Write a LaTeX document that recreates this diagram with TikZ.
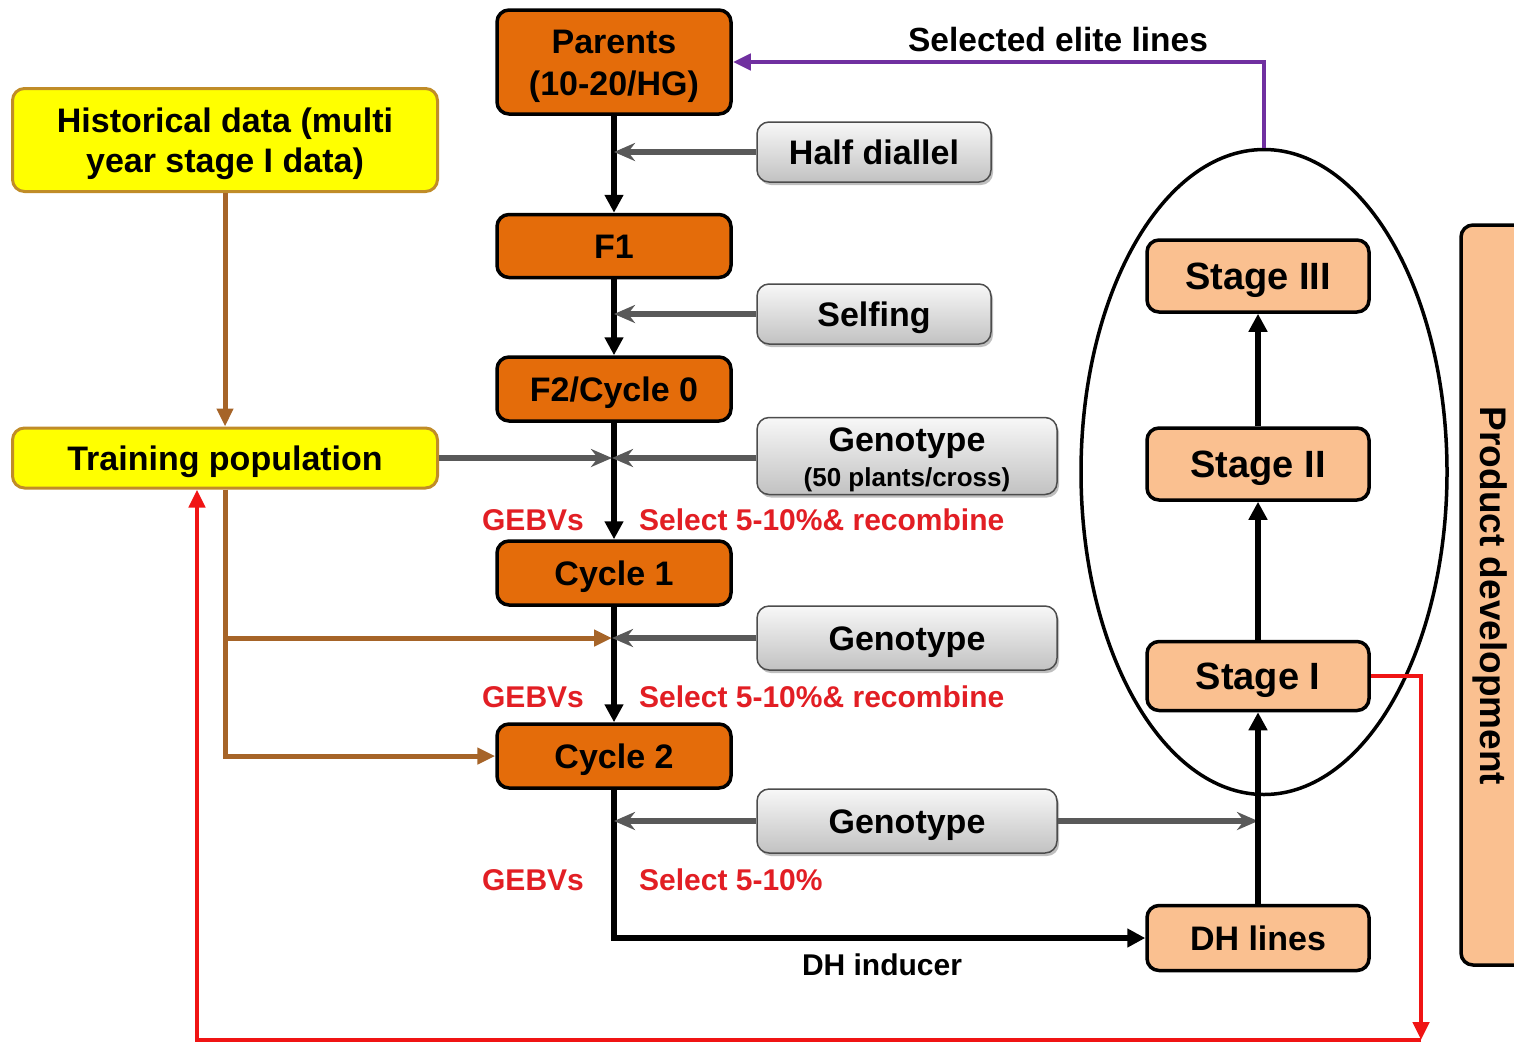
\documentclass[tikz,border=0pt]{standalone}
\usepackage{fontspec}
\setmainfont{Liberation Sans}
\usetikzlibrary{arrows.meta,shapes.geometric,shadows}
\definecolor{boxorange}{RGB}{228,108,10}
\definecolor{stagefill}{RGB}{250,192,144}
\definecolor{histyellow}{RGB}{255,255,0}
\definecolor{histborder}{RGB}{192,140,40}
\definecolor{brownline}{RGB}{166,100,40}
\definecolor{greyline}{RGB}{89,89,89}
\definecolor{eliteviolet}{RGB}{112,48,160}
\definecolor{feedred}{RGB}{240,20,20}
\definecolor{labelred}{RGB}{226,30,36}

\begin{document}
\begin{tikzpicture}[x=1pt,y=-1pt,
  every node/.style={font=\bfseries\fontsize{34}{41}\selectfont, inner sep=0pt},
  capcenter/.style={text height=24.5pt, text depth=0pt},
  obox/.style={draw=black, line width=3.5pt, fill=boxorange, rounded corners=12pt,
    minimum width=234pt, align=center},
  gbox/.style={draw=black!70, line width=1.5pt, top color=black!3, bottom color=black!24,
    rounded corners=12pt, align=center,
    drop shadow={shadow xshift=2pt, shadow yshift=-3pt, opacity=0.25, fill=black}},
  ybox/.style={draw=histborder, line width=3pt, fill=histyellow, rounded corners=12pt,
    minimum width=425pt, align=center},
  sbox/.style={draw=black, line width=3.5pt, fill=stagefill, rounded corners=12pt,
    minimum width=222pt, font=\bfseries\fontsize{38}{44}\selectfont,
    text height=27.3pt, text depth=0pt},
  redlabel/.style={text=labelred, font=\bfseries\fontsize{30}{36}\selectfont},
  barrow/.style={line width=5.5pt, black, -{Triangle[length=18pt,width=18pt]}},
  garrow/.style={line width=5.5pt, greyline, -{Stealth[length=21pt,width=18pt]}},
  brarrow/.style={line width=5pt, brownline, -{Triangle[length=18pt,width=16pt]}},
  redarrow/.style={line width=4.5pt, feedred, -{Triangle[length=18pt,width=16pt]}},
  vioarrow/.style={line width=4.5pt, eliteviolet, -{Triangle[length=18pt,width=16pt]}},
]
\useasboundingbox (0,0) rectangle (1514,1047);
\fill[white] (0,0) rectangle (1514,1047);

% product development bar, cut by the right edge
\begin{scope}
  \clip (0,0) rectangle (1514,1047);
  \node[draw=black, line width=3.5pt, fill=stagefill, rounded corners=12pt,
        minimum width=80pt, minimum height=740pt] (pd) at (1501,595) {};
\end{scope}
\node[rotate=-90, font=\bfseries\fontsize{37}{44}\selectfont] (pdtext) at (1490,596) {Product development};

% main breeding cycle
\node[obox, minimum height=104pt] (parents) at (614,62) {};
\node[align=center, font=\bfseries\fontsize{34}{42}\selectfont] (parentstext) at (614,66) {Parents\\(10-20/HG)};
\node[obox, capcenter, minimum height=63pt] (f1) at (614,246) {F1};
\node[obox, capcenter, minimum height=64pt] (f2) at (614,389) {F2/Cycle 0};
\node[obox, capcenter, minimum height=64pt] (c1) at (614,573) {Cycle 1};
\node[obox, capcenter, minimum height=64pt] (c2) at (614,756) {Cycle 2};

% operations on the right of the main line
\node[gbox, capcenter, minimum width=234pt, minimum height=60pt] (hd) at (874,152) {Half diallel};
\node[gbox, capcenter, minimum width=234pt, minimum height=60pt] (self) at (874,314) {Selfing};
\node[gbox, minimum width=300pt, minimum height=77pt] (g1) at (907,456) {};
\node[align=center] (g1text) at (907,460)
  {Genotype\\[-6pt]{\fontsize{26}{30}\selectfont(50 plants/cross)}};
\node[gbox, capcenter, minimum width=300pt, minimum height=64pt] (g2) at (907,638) {Genotype};
\node[gbox, capcenter, minimum width=300pt, minimum height=64pt] (g3) at (907,821) {Genotype};

% training data
\node[ybox, minimum height=103pt] (hist) at (225,140) {};
\node[align=center, font=\bfseries\fontsize{34}{40}\selectfont] (histtext) at (225,144)
  {Historical data (multi\\year stage I data)};
\node[ybox, capcenter, minimum height=60pt] (tp) at (225,458) {Training population};

% product development stages
\node[ellipse, draw=black, line width=3.5pt, minimum width=366pt, minimum height=645pt] (ell) at (1264,472) {};
\node[sbox, minimum height=72pt] (s3) at (1258,276) {Stage III};
\node[sbox, minimum height=72pt] (s2) at (1258,464) {Stage II};
\node[sbox, minimum height=69pt] (s1) at (1258,676) {Stage I};
\node[sbox, minimum height=65pt, font=\bfseries\fontsize{34}{41}\selectfont, text height=24.5pt] (dh) at (1258,938) {DH lines};

% labels
\node[redlabel] (gebv1) at (533,520) {GEBVs};
\node[redlabel] (gebv2) at (533,697) {GEBVs};
\node[redlabel] (gebv3) at (533,880) {GEBVs};
\node[redlabel, anchor=west] (sel1) at (639,520) {Select 5-10\%\& recombine};
\node[redlabel, anchor=west] (sel2) at (639,697) {Select 5-10\%\& recombine};
\node[redlabel, anchor=west] (sel3) at (639,880) {Select 5-10\%};
\node[font=\bfseries\fontsize{33.5}{40}\selectfont] (elite) at (1058,40) {Selected elite lines};
\node[font=\bfseries\fontsize{30}{36}\selectfont] (dhind) at (882,965) {DH inducer};

% main line
\draw[barrow] (parents.south) -- (f1.north);
\draw[barrow] (f1.south) -- (f2.north);
\draw[barrow] (f2.south) -- (c1.north);
\draw[barrow] (c1.south) -- (c2.north);
\draw[barrow] (c2.south) |- (dh.west);

% inputs to the main line
\coordinate (j0) at (f2.south |- tp.east);
\coordinate (j1) at (c1.south |- g2.west);
\draw[garrow] (hd.west) -- (hd.west -| parents.south);
\draw[garrow] (self.west) -- (self.west -| f1.south);
\draw[garrow, shorten >=-2pt] (g1.west |- tp.east) -- (j0);
\draw[garrow, shorten >=2pt] (tp.east) -- (j0);
\draw[garrow, shorten >=-2pt] (g2.west) -- (j1);
\draw[garrow] (g3.west) -- (g3.west -| c2.south);
\draw[garrow] (g3.east) -- (g3.east -| s1.south);

% training population links
\draw[brarrow] (hist.south) -- (tp.north);
\draw[brarrow] (tp.south) |- (c2.west);
\draw[brarrow, shorten >=2pt] (tp.south |- g2.west) -- (j1);

% stage progression
\draw[barrow] (dh.north) -- (s1.south);
\draw[barrow] (s1.north) -- (s2.south);
\draw[barrow] (s2.north) -- (s3.south);

% feedback loops
\draw[vioarrow] (ell.north) |- (parents.east);
\coordinate (rc) at (1421,1040);
\coordinate (redx) at (197,0);
\draw[redarrow] (s1.east) -| (rc);
\draw[redarrow] (rc) -- (redx |- rc) -- (redx |- tp.south);
\end{tikzpicture}
\end{document}
